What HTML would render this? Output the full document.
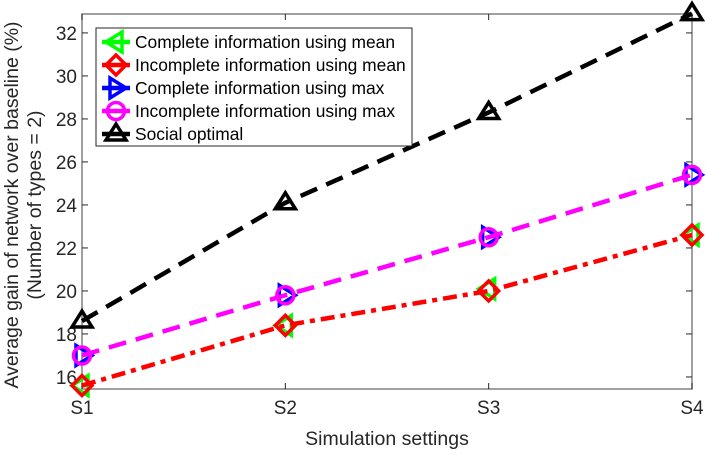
<!DOCTYPE html>
<html><head><meta charset="utf-8"><style>
body{margin:0;background:#fff;font-family:"Liberation Sans",Arial,sans-serif}
svg text{font-family:"Liberation Sans",Arial,sans-serif}
</style></head><body>
<svg id="chart" width="706" height="450"></svg>
<script>
const categories=["S1","S2","S3","S4"];
const yTicks=[16,18,20,22,24,26,28,30,32];
const completeMean=[15.6,18.4,20.1,22.6];
const incompleteMean=[15.6,18.4,20.0,22.6];
const completeMax=[17.0,19.8,22.5,25.4];
const incompleteMax=[17.0,19.8,22.5,25.4];
const socialOptimal=[18.6,24.1,28.3,32.9];
const legendLabels=["Complete information using mean","Incomplete information using mean","Complete information using max","Incomplete information using max","Social optimal"];

const NS="http://www.w3.org/2000/svg";
const svg=document.getElementById("chart");
const L=82,R=692,T=14,B=389,yMin=15.44,yMax=32.88;
const xs=i=>L+(R-L)*i/(categories.length-1);
const ys=v=>B-(v-yMin)/(yMax-yMin)*(B-T);
function el(tag,attrs,parent){const e=document.createElementNS(NS,tag);for(const k in attrs)e.setAttribute(k,attrs[k]);(parent||svg).appendChild(e);return e;}
function txt(s,attrs){const e=el("text",attrs);e.textContent=s;return e;}

const frame=el("rect",{x:L,y:T,width:R-L,height:B-T,fill:"#fff",stroke:"#808080","stroke-width":1.5});


yTicks.forEach(v=>{
 const y=ys(v);
 el("line",{x1:L,x2:L+6,y1:y,y2:y,stroke:"#262626"});
 el("line",{x1:R,x2:R-6,y1:y,y2:y,stroke:"#262626"});
 const t=txt(String(v),{x:L-5,y:y+7,"text-anchor":"end","font-size":19,fill:"#262626"});
 
 
});
categories.forEach((c,i)=>{
 const x=xs(i);
 el("line",{x1:x,x2:x,y1:B,y2:B-6,stroke:"#262626"});
 el("line",{x1:x,x2:x,y1:T,y2:T+6,stroke:"#262626"});
 const t=txt(c,{x:x,y:B+25,"text-anchor":"middle","font-size":19,fill:"#262626"});
 
 
});
const xt=txt("Simulation settings",{x:(L+R)/2,y:445,"text-anchor":"middle","font-size":19.5,fill:"#262626"});


const yt=el("text",{transform:"translate(18,205) rotate(-90)","text-anchor":"middle","font-size":19.5,fill:"#262626"});


const t1=el("tspan",{x:0,y:0},yt);t1.textContent="Average gain of network over baseline (%)";
const t2=el("tspan",{x:0,y:23},yt);t2.textContent="(Number of types = 2)";

function marker(g,type,x,y,color){
 const s=10;
 if(type==="left")el("polygon",{points:`${x-s},${y} ${x+s*0.6},${y-s} ${x+s*0.6},${y+s}`,fill:"none",stroke:color,"stroke-width":3.5},g);
 if(type==="right")el("polygon",{points:`${x+s},${y} ${x-s*0.6},${y-s} ${x-s*0.6},${y+s}`,fill:"none",stroke:color,"stroke-width":3.5},g);
 if(type==="diamond")el("polygon",{points:`${x},${y-s} ${x+s},${y} ${x},${y+s} ${x-s},${y}`,fill:"none",stroke:color,"stroke-width":3.5},g);
 if(type==="circle")el("circle",{cx:x,cy:y,r:8.5,fill:"none",stroke:color,"stroke-width":3.5},g);
 if(type==="up")el("polygon",{points:`${x},${y-s} ${x+s},${y+s*0.6} ${x-s},${y+s*0.6}`,fill:"none",stroke:color,"stroke-width":3.5},g);
}
const series=[
 {d:completeMean,c:"#00ff00",m:"left",dash:null,n:"series-complete-mean"},
 {d:incompleteMean,c:"#ff0000",m:"diamond",dash:"14 6 5 6",n:"series-incomplete-mean"},
 {d:completeMax,c:"#0000ff",m:"right",dash:null,n:"series-complete-max"},
 {d:incompleteMax,c:"#ff00ff",m:"circle",dash:"18 10",n:"series-incomplete-max"},
 {d:socialOptimal,c:"#000000",m:"up",dash:"18 10",n:"series-social-optimal"}
];
series.forEach(s=>{
 const g=el("g",{});
 
 
 if(s.dash)el("polyline",{points:s.d.map((v,i)=>xs(i)+","+ys(v)).join(" "),fill:"none",stroke:s.c,"stroke-width":4.5,"stroke-dasharray":s.dash},g);
 s.d.forEach((v,i)=>marker(g,s.m,xs(i),ys(v),s.c));
});
const lg=el("g",{});


el("rect",{x:96,y:28,width:316,height:118,fill:"#fff",stroke:"#262626","stroke-width":1},lg);
legendLabels.forEach((lab,i)=>{
 const y=42+i*23;
 const e=el("g",{},lg);
 
 
 el("line",{x1:102,x2:130,y1:y,y2:y,stroke:series[i].c,"stroke-width":4.5},e);
 marker(e,series[i].m,116,y,series[i].c);
 const t=el("text",{x:135,y:y+6,"font-size":17.4,fill:"#000"},e);t.textContent=lab;
});
</script>
</body></html>
